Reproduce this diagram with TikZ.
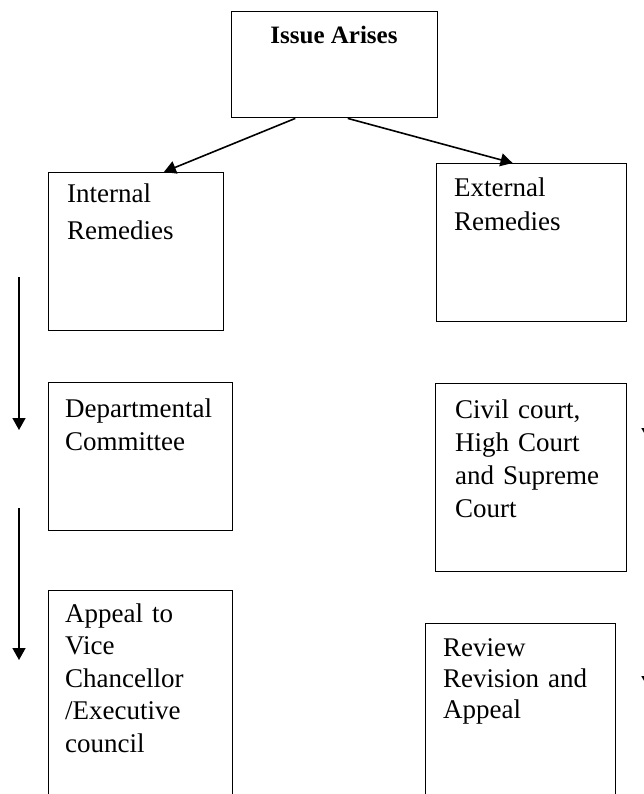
\documentclass[tikz,border=0pt]{standalone}
\usepackage{fontspec}
\setmainfont{Liberation Serif}
\usepackage{tikz}
\usetikzlibrary{arrows.meta, calc}

\begin{document}
\begin{tikzpicture}[x=1pt, y=-1pt,
    box/.style={draw, line width=1.4pt, anchor=north west, inner sep=0pt},
    txt/.style={anchor=base west, inner sep=0pt, align=left, text width=6cm,
                font=\fontsize{27}{33}\selectfont},
    flow/.style={-{Triangle[length=12pt,width=13pt]}, line width=1.6pt}]
  \useasboundingbox (0,0) rectangle (644,794);
  % Top box
  \node[box, minimum width=206pt, minimum height=106pt] (issue) at (231,11) {};
  \node[anchor=base, inner sep=0pt, font=\fontsize{25}{30}\selectfont\bfseries]
        (issueT) at (334,44) {Issue Arises};
  % Two kinds of remedies
  \node[box, minimum width=175pt, minimum height=158pt] (intl) at (48,172) {};
  \node[txt] (intlT) at (67,203) {Internal\\[4pt]Remedies};
  \node[box, minimum width=190pt, minimum height=158pt] (extl) at (436,163) {};
  \node[txt] (extlT) at (454,197) {External\\Remedies};
  % Internal steps
  \node[box, minimum width=184pt, minimum height=148pt] (dept) at (48,382) {};
  \node[txt] (deptT) at (65,417) {Departmental\\Committee};
  \node[box, minimum width=184pt, minimum height=260pt] (appeal) at (48,590) {};
  \node[txt, font=\fontsize{27}{32.5}\selectfont] (appealT) at (65,622)
        {Appeal to\\Vice\\Chancellor\\/Executive\\council};
  % External steps
  \node[box, minimum width=191pt, minimum height=188pt] (civil) at (435,383) {};
  \node[txt] (civilT) at (455,418) {Civil court,\\High Court\\and Supreme\\Court};
  \node[box, minimum width=190pt, minimum height=250pt] (review) at (425,623) {};
  \node[txt, font=\fontsize{27}{31}\selectfont] (reviewT) at (443,656)
        {Review\\Revision and\\Appeal};
  % Arrows from the top box
  \draw[flow] ($(issue.south west)!0.31!(issue.south east)$)
        -- ($(intl.north west)!0.657!(intl.north east)$);
  \draw[flow] ($(issue.south west)!0.563!(issue.south east)$)
        -- ($(extl.north west)!0.4!(extl.north east)$);
  % Side arrows
  \coordinate (l1s) at (19,277);  \coordinate (l1e) at (19,430);
  \coordinate (l2s) at (19,508);  \coordinate (l2e) at (19,660);
  \coordinate (r1s) at (648,300); \coordinate (r1e) at (648,440);
  \coordinate (r2s) at (648,560); \coordinate (r2e) at (648,688);
  \draw[flow] (l1s) -- (l1e);
  \draw[flow] (l2s) -- (l2e);
  \draw[flow] (r1s) -- (r1e);
  \draw[flow] (r2s) -- (r2e);
\end{tikzpicture}
\end{document}
